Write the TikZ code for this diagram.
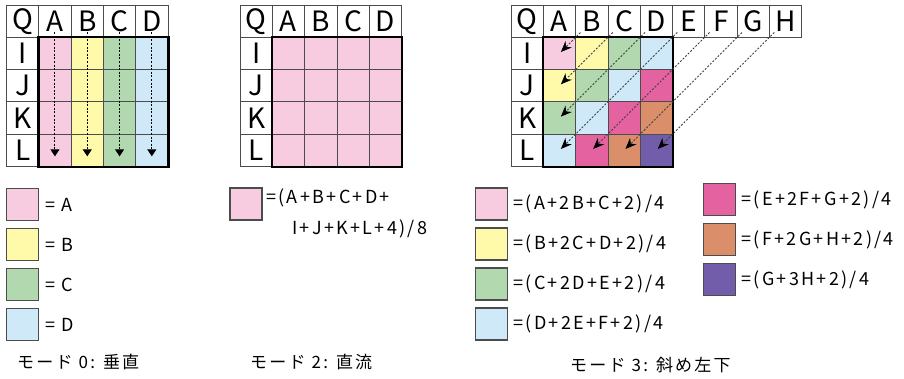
\documentclass[tikz,border=0pt]{standalone}
\usepackage{fontspec}
\setmainfont{Noto Sans CJK JP}
\newfontfamily\keyfont[LetterSpace=13]{Noto Sans CJK JP}
\newfontfamily\capfont[LetterSpace=13]{Noto Sans CJK JP}
\usetikzlibrary{arrows.meta, positioning, calc}
\definecolor{pinkc}{RGB}{247,204,224}
\definecolor{yellowc}{RGB}{255,249,170}
\definecolor{greenc}{RGB}{178,216,176}
\definecolor{bluec}{RGB}{207,233,248}
\definecolor{magentac}{RGB}{229,98,160}
\definecolor{orangec}{RGB}{219,142,106}
\definecolor{purplec}{RGB}{113,93,170}
\colorlet{diag2}{pinkc}
\colorlet{diag3}{yellowc}
\colorlet{diag4}{greenc}
\colorlet{diag5}{bluec}
\colorlet{diag6}{magentac}
\colorlet{diag7}{orangec}
\colorlet{diag8}{purplec}
\newcommand{\cellsz}{32.3}

\begin{document}
\begin{tikzpicture}[x=1pt, y=-1pt,
    hcell/.style={draw=black!70, line width=0.8pt, minimum size=\cellsz pt, inner sep=0pt, font=\fontsize{28}{28}\selectfont},
    cell/.style={draw=black!70, line width=0.8pt, minimum size=\cellsz pt, inner sep=0pt},
    outerframe/.style={line width=2.6pt, black},
    keybox/.style={draw=black!70, line width=1.2pt, minimum size=32pt, inner sep=0pt},
    keytext/.style={font={\keyfont\fontsize{18}{22}\selectfont}, anchor=west, inner sep=0pt},
    modecap/.style={font={\capfont\fontsize{17}{20}\selectfont}, anchor=west, inner sep=0pt},
    vflow/.style={dash pattern=on 2pt off 1.6pt, line width=1pt, -{Triangle[width=9pt,length=7pt]}},
    dflow/.style={dash pattern=on 2pt off 1.6pt, line width=0.9pt, black!75, -{Stealth[width=9pt,length=11pt, black]}},
]
    \useasboundingbox (0,0) rectangle (904,379);

    % mode 0: vertical
    \node[hcell] (m0h-Q) at ({6.5+0.5*\cellsz},{5+0.5*\cellsz}) {Q};
    \foreach \r [count=\j] in {I,J,K,L}
        \node[hcell] (m0h-\r) at ({6.5+0.5*\cellsz},{5+(\j+0.5)*\cellsz}) {\r};
    \foreach \c/\col [count=\k] in {A/pinkc,B/yellowc,C/greenc,D/bluec} {
        \node[hcell] (m0h-\c) at ({6.5+(\k+0.5)*\cellsz},{5+0.5*\cellsz}) {\c};
        \foreach \j in {1,...,4}
            \node[cell, fill=\col] (m0-\j-\k) at ({6.5+(\k+0.5)*\cellsz},{5+(\j+0.5)*\cellsz}) {};
    }
    \draw[outerframe] (m0-1-1.north west) rectangle (m0-4-4.south east);
    \foreach \c [count=\k] in {A,B,C,D}
        \draw[vflow, shorten <=11pt, shorten >=-6pt] (m0h-\c.center) -- (m0-4-\k.center);

    % mode 2: DC
    \node[hcell] (m2h-Q) at ({240+0.5*\cellsz},{5+0.5*\cellsz}) {Q};
    \foreach \r [count=\j] in {I,J,K,L}
        \node[hcell] (m2h-\r) at ({240+0.5*\cellsz},{5+(\j+0.5)*\cellsz}) {\r};
    \foreach \c [count=\k] in {A,B,C,D} {
        \node[hcell] (m2h-\c) at ({240+(\k+0.5)*\cellsz},{5+0.5*\cellsz}) {\c};
        \foreach \j in {1,...,4}
            \node[cell, fill=pinkc] (m2-\j-\k) at ({240+(\k+0.5)*\cellsz},{5+(\j+0.5)*\cellsz}) {};
    }
    \draw[outerframe] (m2-1-1.north west) rectangle (m2-4-4.south east);

    % mode 3: diagonal down-left
    \node[hcell] (m3h-Q) at ({511+0.5*\cellsz},{5+0.5*\cellsz}) {Q};
    \foreach \r [count=\j] in {I,J,K,L}
        \node[hcell] (m3h-\r) at ({511+0.5*\cellsz},{5+(\j+0.5)*\cellsz}) {\r};
    \foreach \c [count=\k] in {A,B,C,D,E,F,G,H}
        \node[hcell] (m3h-\c) at ({511+(\k+0.5)*\cellsz},{5+0.5*\cellsz}) {\c};
    \foreach \k in {1,...,4}
        \foreach \j in {1,...,4} {
            \pgfmathtruncatemacro\s{\j+\k}
            \node[cell, fill=diag\s] (m3-\j-\k) at ({511+(\k+0.5)*\cellsz},{5+(\j+0.5)*\cellsz}) {};
        }
    \draw[outerframe] (m3-1-1.north west) rectangle (m3-4-4.south east);
    \foreach \h/\j/\k in {B/1/1, C/2/1, D/3/1, E/4/1, F/4/2, G/4/3, H/4/4}
        \draw[dflow, shorten <=16pt, shorten >=2pt] (m3h-\h.center) -- (m3-\j-\k.center);

    % keys, mode 0
    \foreach \col/\txt [count=\i] in {pinkc/A, yellowc/B, greenc/C, bluec/D} {
        \node[keybox, fill=\col] (k0-\i) at (22.5,{164.5+40*\i}) {};
        \node[keytext, right=6pt of k0-\i] (k0t-\i) {= \txt};
    }

    % keys, mode 2
    \node[keybox, fill=pinkc] (k2) at (246,204) {};
    \node[keytext, anchor=west] (k2t-1) at (266,198) {=(A+B+C+D+};
    \node[keytext, anchor=west] (k2t-2) at (292,229) {I+J+K+L+4)/8};

    % keys, mode 3
    \foreach \col/\txt [count=\i] in {pinkc/{(A+2B+C+2)/4}, yellowc/{(B+2C+D+2)/4}, greenc/{(C+2D+E+2)/4}, bluec/{(D+2E+F+2)/4}} {
        \node[keybox, fill=\col] (k3-\i) at (491.5,{164+40*\i}) {};
        \node[keytext, right=5pt of k3-\i] (k3t-\i) {=\txt};
    }
    \foreach \col/\txt [count=\i] in {magentac/{(E+2F+G+2)/4}, orangec/{(F+2G+H+2)/4}, purplec/{(G+3H+2)/4}} {
        \node[keybox, fill=\col] (k3r-\i) at (719.5,{159.5+40*\i}) {};
        \node[keytext, right=5pt of k3r-\i] (k3rt-\i) {=\txt};
    }

    % captions
    \node[modecap] (cap0) at (17,362) {モード 0: 垂直};
    \node[modecap] (cap2) at (250,362) {モード 2: 直流};
    \node[modecap] (cap3) at (570,365) {モード 3: 斜め左下};
\end{tikzpicture}
\end{document}
